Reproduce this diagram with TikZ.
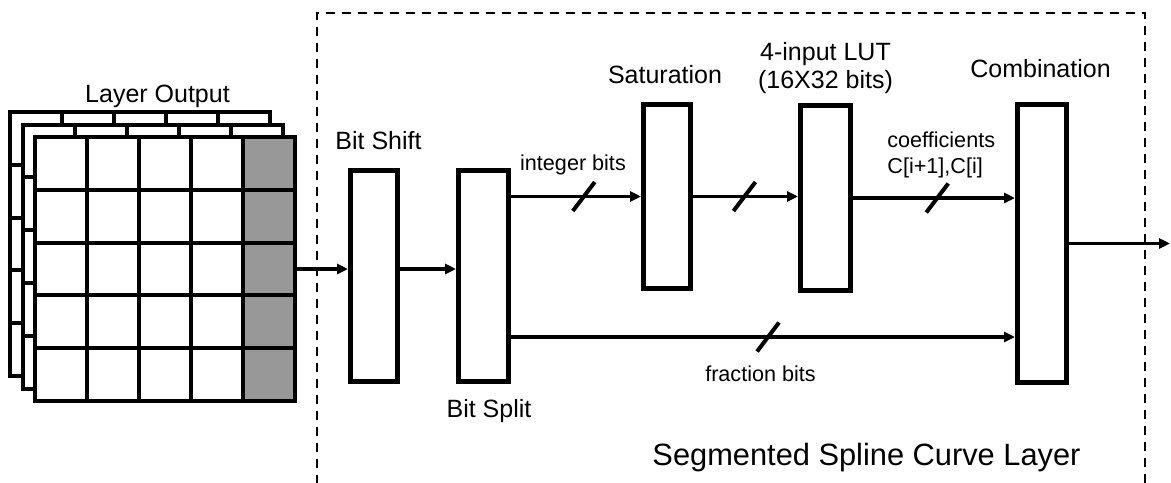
\documentclass[tikz,border=0pt]{standalone}
\usepackage{fontspec}
\setmainfont{Liberation Sans}
\usetikzlibrary{arrows.meta}
\definecolor{CellGray}{HTML}{989898}

\begin{document}
\begin{tikzpicture}[x=0.5pt,y=-0.5pt,
    blockbox/.style={draw,line width=2.4pt,fill=white,inner sep=0pt},
    flow/.style={line width=1.6pt,-{Triangle[length=5.5pt,width=5pt]}},
    busmark/.style={line width=2pt},
    cellline/.style={line width=2pt},
    biglabel/.style={inner sep=0pt,font=\fontsize{12.5}{14}\selectfont},
    smalllabel/.style={inner sep=0pt,font=\fontsize{10.8}{13}\selectfont}]
  \useasboundingbox (0,0) rectangle (1171,482);

  % stacked layer output grids
  \foreach \off/\shade in {25/white,12.5/white,0/CellGray} {
    \fill[white] (35-\off,137-\off) rectangle ++(260,264);
    \fill[\shade] (243-\off,137-\off) rectangle ++(52,264);
    \foreach \i in {1,...,4} {
      \draw[cellline] (35-\off+52*\i,137-\off) -- ++(0,264);
      \draw[cellline] (35-\off,137-\off+52.8*\i) -- ++(260,0);
    }
    \draw[cellline] (35-\off,137-\off) rectangle ++(260,264);
  }
  \node[minimum width=130pt,minimum height=132pt,inner sep=0pt,outer sep=1pt] (grid) at (165,269) {};
  \node[biglabel,anchor=base] (outlabel) at (157.5,102) {Layer Output};

  % dashed frame of the layer
  \draw[line width=1.4pt,dash pattern=on 4.5pt off 3.5pt] (317,500) -- (317,13) -- (1145,13) -- (1145,500);

  % blocks
  \node[blockbox,minimum width=23.6pt,minimum height=105.6pt] (shift) at (374,276) {};
  \node[blockbox,minimum width=25.1pt,minimum height=105.6pt] (split) at (483.5,276) {};
  \node[blockbox,minimum width=23.6pt,minimum height=92.1pt] (sat) at (667,196.5) {};
  \node[blockbox,minimum width=25.1pt,minimum height=92.6pt] (lut) at (825.5,198) {};
  \node[blockbox,minimum width=24.6pt,minimum height=139.1pt] (comb) at (1042,243.5) {};
  \coordinate (fracy) at (0,337);
  \coordinate (out) at (1170,243.5);

  \node[biglabel,anchor=base] (shiftlabel) at (378.5,149) {Bit Shift};
  \node[biglabel,anchor=base] (splitlabel) at (489,417) {Bit Split};
  \node[biglabel,anchor=base] (satlabel) at (665,83) {Saturation};
  \node[biglabel,anchor=base,align=center] (lutlabel) at (825.5,88) {4-input LUT\\(16X32 bits)};
  \node[biglabel,anchor=base] (comblabel) at (1040.5,77) {Combination};
  \node[smalllabel,anchor=base] (intlabel) at (573,170) {integer bits};
  \node[smalllabel,anchor=base west,align=left] (coeflabel) at (887,173) {coefficients\\C[i+1],C[i]};
  \node[smalllabel,anchor=base] (fraclabel) at (760.5,381) {fraction bits};
  \node[inner sep=0pt,anchor=base,font=\fontsize{15.4}{18}\selectfont] (layerlabel) at (866.5,465) {Segmented Spline Curve Layer};

  % connectors
  \draw[flow] (grid.east) -- (shift.west |- grid.east);
  \draw[flow] (shift.east |- grid.east) -- (split.west |- grid.east);
  \draw[flow] (split.east |- sat.west) -- (sat.west) coordinate[pos=0.56] (intmark);
  \draw[flow] (sat.east) -- (lut.west |- sat.east) coordinate[pos=0.49] (satmark);
  \draw[flow] (lut.east) -- (comb.west |- lut.east) coordinate[pos=0.52] (coefmark);
  \draw[flow] (split.east |- fracy) -- (comb.west |- fracy) coordinate[pos=0.51] (fracmark);
  \draw[flow] (comb.east) -- (out);

  % bus width marks
  \foreach \m in {intmark,satmark,coefmark,fracmark}
    \draw[busmark] ([shift={(-11,14.5)}]\m) -- ++(22,-29);
\end{tikzpicture}
\end{document}
